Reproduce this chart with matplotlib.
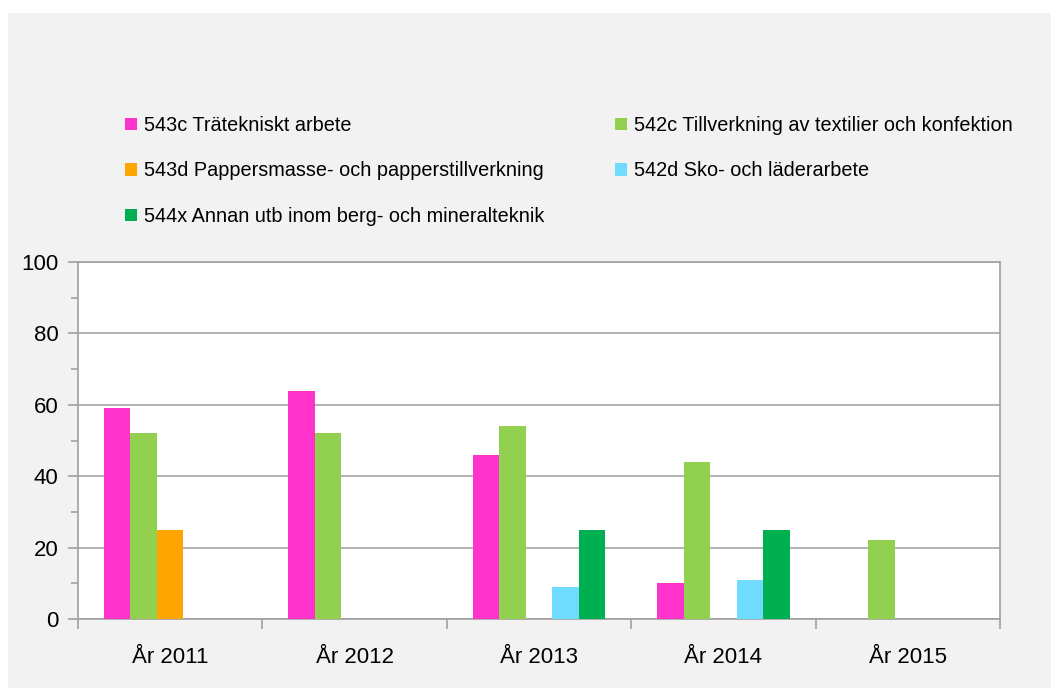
import numpy as np
import matplotlib
matplotlib.use('Agg')
import matplotlib.pyplot as plt
from matplotlib.patches import Rectangle, Patch
from matplotlib.ticker import MultipleLocator

plt.rcParams['font.family'] = ['Liberation Sans', 'DejaVu Sans']

years = ['År 2011', 'År 2012', 'År 2013', 'År 2014', 'År 2015']
series_names = ['543c Trätekniskt arbete',
                '542c Tillverkning av textilier och konfektion',
                '543d Pappersmasse- och papperstillverkning',
                '542d Sko- och läderarbete',
                '544x Annan utb inom berg- och mineralteknik']
colors = ['#FF33CC', '#92D050', '#FFA500', '#6FDCFF', '#00B050']

v_543c = [59, 64, 46, 10, 0]
v_542c = [52, 52, 54, 44, 22]
v_543d = [25, 0, 0, 0, 0]
v_542d = [0, 0, 9, 11, 0]
v_544x = [0, 0, 25, 25, 0]
values = [v_543c, v_542c, v_543d, v_542d, v_544x]

W, H = 1051, 690
fig = plt.figure(figsize=(W / 100, H / 100), dpi=100)
# light grey chart area behind everything
fig.add_artist(Rectangle((8 / W, 2 / H), 1 - 8 / W, (688 - 13) / H,
                         transform=fig.transFigure, facecolor='#F2F2F2',
                         edgecolor='none', zorder=-10))

ax = fig.add_axes([78 / W, (H - 619) / H, 922 / W, 357 / H])
ax.set_facecolor('white')

x = np.arange(len(years))
n = len(values)
bw = 0.72 / n
for i, vals in enumerate(values):
    ax.bar(x - 0.36 + bw * (i + 0.5), vals, width=bw, color=colors[i],
           edgecolor='none', zorder=3)

ax.set_xlim(-0.5, len(years) - 0.5)
ax.set_ylim(0, 100)
ax.yaxis.set_major_locator(MultipleLocator(20))
ax.yaxis.set_minor_locator(MultipleLocator(10))
ax.grid(axis='y', which='major', color='#A6A6A6', linewidth=1.2, zorder=1)
for s in ax.spines.values():
    s.set_color('#A0A0A0')
    s.set_linewidth(1.2)

ax.set_xticks(x)
ax.set_xticklabels(years)
ax.set_xticks(np.arange(-0.5, len(years)), minor=True)
ax.tick_params(axis='x', which='major', length=0, pad=20, labelsize=16,
               colors='black')
ax.tick_params(axis='x', which='minor', length=7, color='#A0A0A0', width=1.2)
ax.tick_params(axis='y', which='major', length=7, color='#A0A0A0', width=1.2,
               labelcolor='black', pad=7, labelsize=16)
ax.tick_params(axis='y', which='minor', length=5, color='#A0A0A0', width=1.2)

# legend in two columns, filled row-wise like the original
handles = [Patch(facecolor=c, edgecolor='none') for c in colors]
left_idx = [0, 2, 4]
right_idx = [1, 3]
common = dict(frameon=False, fontsize=14.3, handlelength=0.6, handleheight=0.6,
              handletextpad=0.35, labelspacing=1.33, borderpad=0, borderaxespad=0)
fig.legend([handles[i] for i in left_idx], [series_names[i] for i in left_idx],
           loc='upper left', bbox_to_anchor=(125 / W, 1 - 116 / H), **common)
fig.legend([handles[i] for i in right_idx], [series_names[i] for i in right_idx],
           loc='upper left', bbox_to_anchor=(615 / W, 1 - 116 / H), **common)

fig.savefig('out.png', dpi=100)
